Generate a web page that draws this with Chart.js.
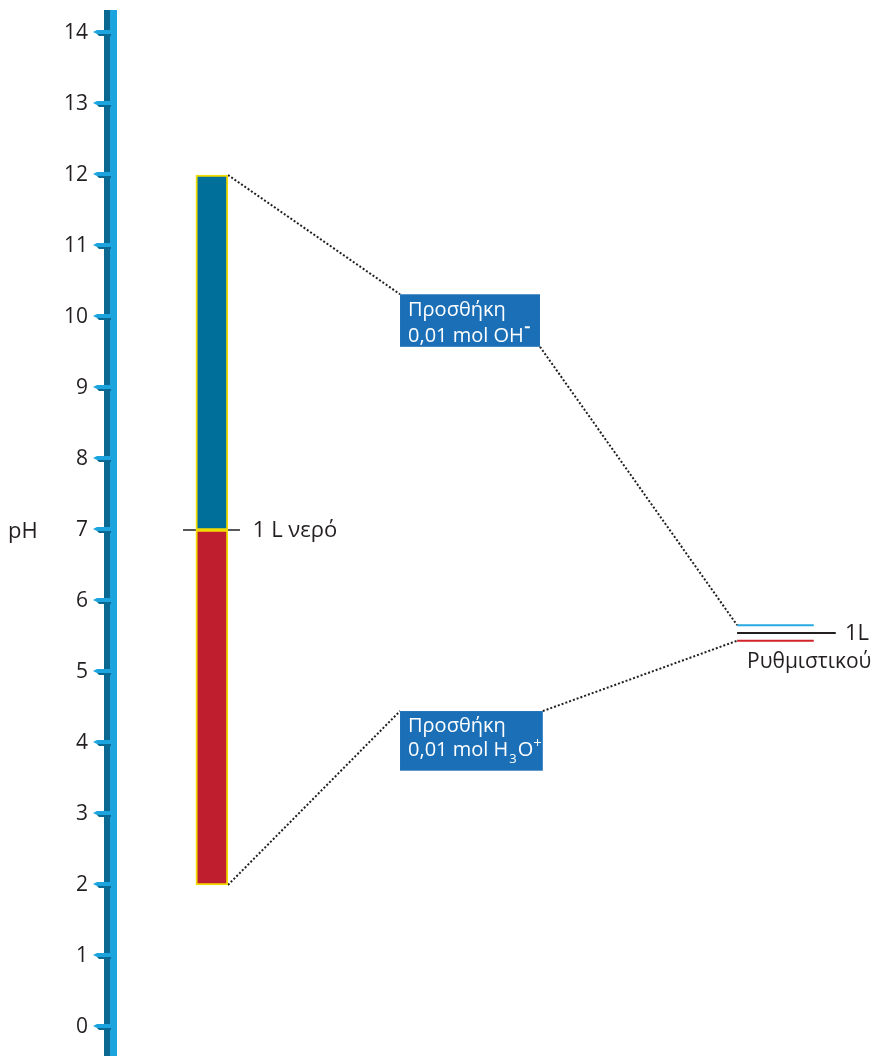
<!DOCTYPE html>
<html>
<head>
<meta charset="utf-8">
<script src="https://cdn.jsdelivr.net/npm/chart.js@4.4.0/dist/chart.umd.min.js"></script>
<style>
  html, body { margin: 0; background: #fff; }
  #wrap { width: 876px; height: 1056px; }
</style>
</head>
<body>
<div id="wrap"><canvas id="phChart"></canvas></div>
<script>
// pH scale
const phTicks = [0, 1, 2, 3, 4, 5, 6, 7, 8, 9, 10, 11, 12, 13, 14];
const waterPH = 7;
// water column: after adding base (top) and after adding acid (bottom)
const waterRanges = [[7, 12], [2, 7]];
const waterColors = ['#00709a', '#be1e2d'];
// buffer: after base, unchanged, after acid
const bufferPH = [5.66, 5.55, 5.44];
const bufferColors = ['#27aae1', '#231f20', '#d2232a'];
// label boxes (pH of top and bottom edge)
const baseBoxPH = [10.32, 9.58];
const acidBoxPH = [4.45, 3.61];

const textColor = '#231f20';
const FONT = '"Open Sans", "Noto Sans", sans-serif';

// horizontal positions (in hidden x units 0..10)
const colX = 1.25, colEdge = 1.462;
const boxLeft = 3.729, baseBoxRight = 5.573, acidBoxRight = 5.61;
const bufStart = 8.17, bufShortEnd = 9.18, bufLongEnd = 9.47;

function seg(x1, y1, x2, y2, color, width, dash, order) {
  return {
    type: 'line',
    data: [{x: x1, y: y1}, {x: x2, y: y2}],
    borderColor: color,
    borderWidth: width,
    borderDash: dash || [],
    pointRadius: 0,
    fill: false,
    order: order
  };
}

const dots = [2, 2];
const datasets = [
  {
    type: 'bar',
    data: waterRanges.map(r => ({x: colX, y: r})),
    backgroundColor: waterColors,
    borderColor: '#f2dc00',
    borderWidth: 2,
    borderSkipped: false,
    barThickness: 32,
    grouped: false,
    order: 0
  },
  seg(0.87, waterPH, 1.62, waterPH, textColor, 1.5, [], 2),
  seg(colEdge, waterRanges[0][1], boxLeft, baseBoxPH[0], textColor, 2, dots, 1),
  seg(baseBoxRight, baseBoxPH[1], bufStart, bufferPH[0], textColor, 2, dots, 1),
  seg(colEdge, waterRanges[1][0], boxLeft, acidBoxPH[0], textColor, 2, dots, 1),
  seg(acidBoxRight, acidBoxPH[0], bufStart, bufferPH[2], textColor, 2, dots, 1),
  seg(bufStart, bufferPH[0], bufShortEnd, bufferPH[0], bufferColors[0], 2, [], 1),
  seg(bufStart, bufferPH[1], bufLongEnd, bufferPH[1], bufferColors[1], 2, [], 1),
  seg(bufStart, bufferPH[2], bufShortEnd, bufferPH[2], bufferColors[2], 2, [], 1)
];

const decor = {
  id: 'phDecor',
  beforeDatasetsDraw(chart) {
    const ctx = chart.ctx, y = chart.scales.y;
    ctx.save();
    // axis stripe
    ctx.fillStyle = '#0a6891';
    ctx.fillRect(104, 10, 6, chart.height - 10);
    ctx.fillStyle = '#1ba4dd';
    ctx.fillRect(110, 10, 7, chart.height - 10);
    // tick marks
    phTicks.forEach(v => {
      const py = Math.round(y.getPixelForValue(v));
      ctx.fillStyle = '#1ba4dd';
      ctx.beginPath();
      ctx.moveTo(93, py - 1); ctx.lineTo(97, py - 3); ctx.lineTo(111, py - 3);
      ctx.lineTo(111, py + 1); ctx.lineTo(97, py + 1); ctx.closePath(); ctx.fill();
      ctx.fillStyle = '#0a6891';
      ctx.beginPath();
      ctx.moveTo(97, py + 1); ctx.lineTo(111, py + 1); ctx.lineTo(111, py + 3);
      ctx.lineTo(99, py + 3); ctx.closePath(); ctx.fill();
    });
    ctx.restore();
  },
  afterDatasetsDraw(chart) {
    const ctx = chart.ctx, x = chart.scales.x, y = chart.scales.y;
    ctx.save();
    ctx.fillStyle = textColor;
    ctx.textBaseline = 'middle';
    ctx.font = '22px ' + FONT;
    ctx.textAlign = 'left';
    ctx.fillText('pH', 8, y.getPixelForValue(waterPH) + 2);
    ctx.fillText('1 L νερό', x.getPixelForValue(1.79), y.getPixelForValue(waterPH) + 1);
    ctx.fillText('1L', x.getPixelForValue(9.59), y.getPixelForValue(bufferPH[1]) + 1);
    ctx.textAlign = 'center';
    ctx.font = '21px ' + FONT;
    ctx.fillText('Ρυθμιστικού', x.getPixelForValue(9.12), y.getPixelForValue(5.14));

    // label boxes
    function box(left, right, phTop, phBottom) {
      const l = x.getPixelForValue(left), r = x.getPixelForValue(right);
      const t = y.getPixelForValue(phTop), b = y.getPixelForValue(phBottom);
      ctx.fillStyle = '#1a6fb7';
      ctx.fillRect(l, t, r - l, b - t);
      return {l, t};
    }
    ctx.textAlign = 'left';
    ctx.textBaseline = 'alphabetic';
    let p = box(boxLeft, baseBoxRight, baseBoxPH[0], baseBoxPH[1]);
    ctx.fillStyle = '#fff';
    ctx.font = '20px ' + FONT;
    ctx.fillText('Προσθήκη', p.l + 8, p.t + 22);
    let tx = p.l + 8, base = p.t + 48;
    ctx.fillText('0,01 mol OH', tx, base);
    tx += ctx.measureText('0,01 mol OH').width;
    ctx.fillRect(tx + 1, base - 16, 5, 2);

    p = box(boxLeft, acidBoxRight, acidBoxPH[0], acidBoxPH[1]);
    ctx.fillStyle = '#fff';
    ctx.font = '20px ' + FONT;
    ctx.fillText('Προσθήκη', p.l + 8, p.t + 21);
    tx = p.l + 8; base = p.t + 45;
    ctx.fillText('0,01 mol H', tx, base);
    tx += ctx.measureText('0,01 mol H').width + 1;
    ctx.font = '13px ' + FONT;
    ctx.fillText('3', tx, base + 7);
    tx += ctx.measureText('3').width + 1;
    ctx.font = '20px ' + FONT;
    ctx.fillText('O', tx, base);
    tx += ctx.measureText('O').width;
    ctx.font = '15px ' + FONT;
    ctx.fillText('+', tx, base - 8);
    ctx.restore();
  }
};

new Chart(document.getElementById('phChart'), {
  type: 'bar',
  data: { datasets: datasets },
  options: {
    responsive: true,
    maintainAspectRatio: false,
    animation: false,
    layout: { padding: { top: 33, bottom: 29, left: 0, right: 0 } },
    plugins: { legend: { display: false }, tooltip: { enabled: false } },
    scales: {
      x: { type: 'linear', min: 0, max: 10, offset: false, display: false },
      y: {
        type: 'linear',
        position: 'left',
        min: 0,
        max: 14,
        afterFit: s => { s.width = 117; s.paddingTop = 0; s.paddingBottom = 0; },
        afterBuildTicks: s => { s.ticks = phTicks.map(v => ({value: v})); },
        grid: { display: false, drawTicks: false },
        border: { display: false },
        ticks: { padding: 29, color: textColor, font: { family: FONT, size: 21 } }
      }
    }
  },
  plugins: [decor]
});
</script>
</body>
</html>
